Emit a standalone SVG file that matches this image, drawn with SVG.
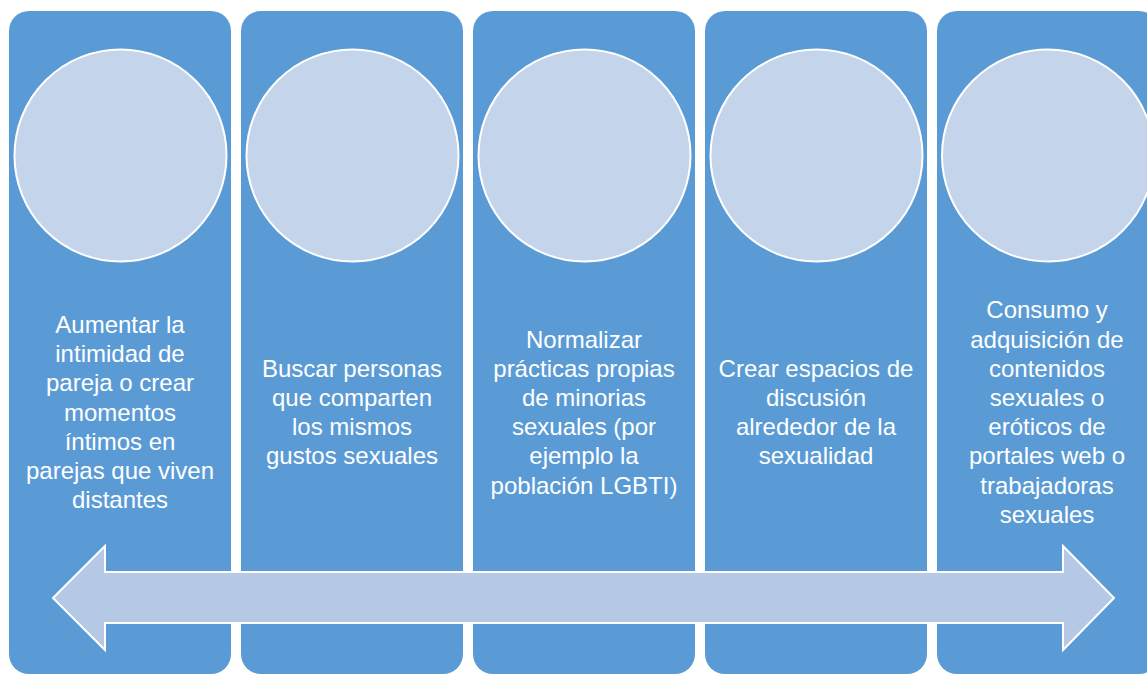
<svg xmlns="http://www.w3.org/2000/svg" width="1147" height="675" viewBox="0 0 1147 675">
<style>
.col{fill:#5B9BD5;}
.circ{fill:#C4D4EA;stroke:#FFFFFF;stroke-width:2;}
.lbl{font-family:"Liberation Sans",Arial,sans-serif;font-size:24px;fill:#FFFFFF;text-anchor:middle;}
.arrow{fill:#B5C9E7;stroke:#FFFFFF;stroke-width:2;stroke-linejoin:miter;}
</style>
<rect width="1147" height="675" fill="#FFFFFF"/>
<g id="node1">
<rect class="col" x="9" y="11" width="222" height="663" rx="20" ry="20"/>
<circle class="circ" cx="120.5" cy="155.5" r="106"/>
<text class="lbl" x="120"><tspan x="120" y="333">Aumentar la</tspan><tspan x="120" y="362.2">intimidad de</tspan><tspan x="120" y="391.4">pareja o crear</tspan><tspan x="120" y="420.6">momentos</tspan><tspan x="120" y="449.8">íntimos en</tspan><tspan x="120" y="479">parejas que viven</tspan><tspan x="120" y="508.2">distantes</tspan></text>
</g>
<g id="node2">
<rect class="col" x="241" y="11" width="222" height="663" rx="20" ry="20"/>
<circle class="circ" cx="352.5" cy="155.5" r="106"/>
<text class="lbl" x="352"><tspan x="352" y="376.7">Buscar personas</tspan><tspan x="352" y="405.9">que comparten</tspan><tspan x="352" y="435.1">los mismos</tspan><tspan x="352" y="464.3">gustos sexuales</tspan></text>
</g>
<g id="node3">
<rect class="col" x="473" y="11" width="222" height="663" rx="20" ry="20"/>
<circle class="circ" cx="584.5" cy="155.5" r="106"/>
<text class="lbl" x="584"><tspan x="584" y="347.5">Normalizar</tspan><tspan x="584" y="376.7">prácticas propias</tspan><tspan x="584" y="405.9">de minorias</tspan><tspan x="584" y="435.1">sexuales (por</tspan><tspan x="584" y="464.3">ejemplo la</tspan><tspan x="584" y="493.5">población LGBTI)</tspan></text>
</g>
<g id="node4">
<rect class="col" x="705" y="11" width="222" height="663" rx="20" ry="20"/>
<circle class="circ" cx="816.5" cy="155.5" r="106"/>
<text class="lbl" x="816"><tspan x="816" y="376.7">Crear espacios de</tspan><tspan x="816" y="405.9">discusión</tspan><tspan x="816" y="435.1">alrededor de la</tspan><tspan x="816" y="464.3">sexualidad</tspan></text>
</g>
<g id="node5">
<rect class="col" x="937" y="11" width="222" height="663" rx="20" ry="20"/>
<circle class="circ" cx="1048" cy="155.5" r="106"/>
<text class="lbl" x="1047"><tspan x="1047" y="318.3">Consumo y</tspan><tspan x="1047" y="347.5">adquisición de</tspan><tspan x="1047" y="376.7">contenidos</tspan><tspan x="1047" y="405.9">sexuales o</tspan><tspan x="1047" y="435.1">eróticos de</tspan><tspan x="1047" y="464.3">portales web o</tspan><tspan x="1047" y="493.5">trabajadoras</tspan><tspan x="1047" y="522.7">sexuales</tspan></text>
</g>
<g id="connectors">
<polygon class="arrow" points="53,598 105,546 105,572 1063,572 1063,546 1114,598 1063,650 1063,623 105,623 105,650"/>
</g>
</svg>
